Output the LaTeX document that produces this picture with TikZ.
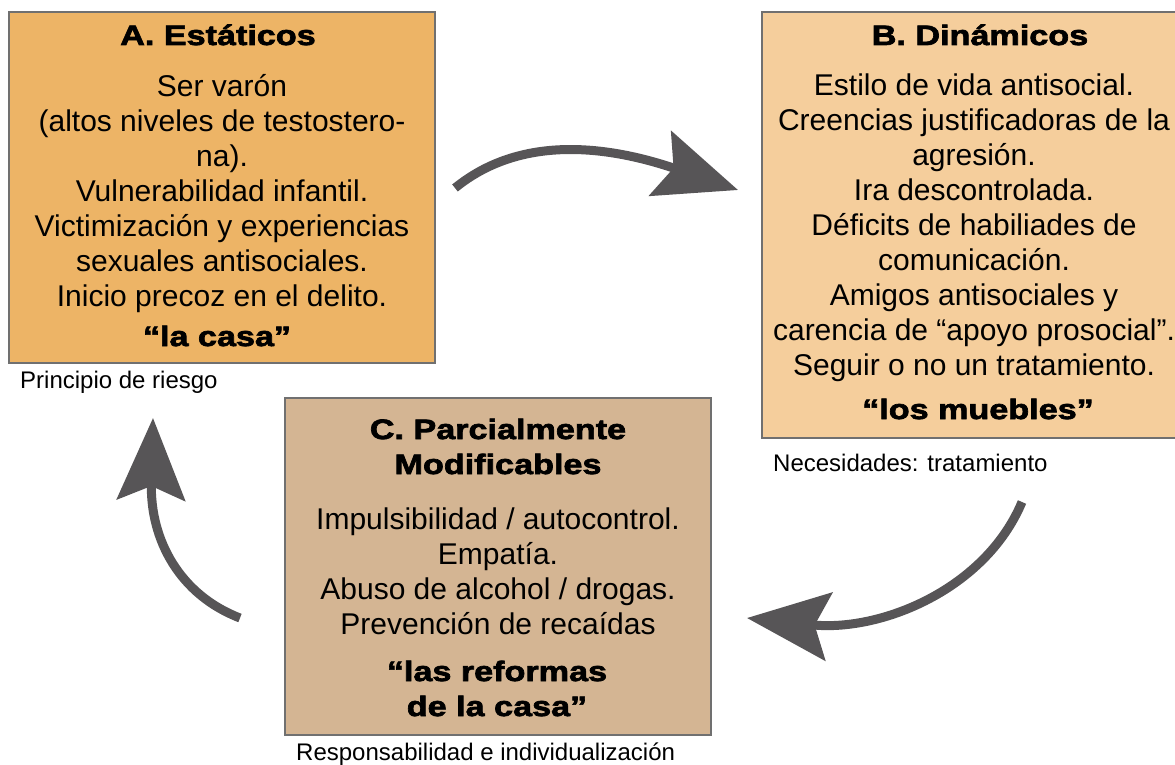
\documentclass[tikz,border=0pt]{standalone}
\usepackage{fontspec}
\setmainfont{Liberation Sans}
\newfontfamily\heavyfont[FakeStretch=1.22,FakeBold=2.5]{Liberation Sans Bold}
\usepackage{tikz}
\usetikzlibrary{arrows.meta}
\definecolor{fillA}{HTML}{EDB466}
\definecolor{fillB}{HTML}{F5CE9C}
\definecolor{fillC}{HTML}{D4B593}
\definecolor{edgegray}{HTML}{707070}
\definecolor{arrowgray}{HTML}{575557}
\begin{document}
\begin{tikzpicture}[x=1pt,y=-1pt,
    factor/.style={draw=edgegray, line width=2pt, inner sep=0pt},
    heading/.style={font=\heavyfont\fontsize{28}{35}\selectfont, align=center, inner sep=0pt, anchor=base},
    bodytext/.style={font=\fontsize{30}{35}\selectfont, align=center, inner sep=0pt, anchor=base},
    note/.style={font=\fontsize{24}{28}\selectfont, inner sep=0pt, anchor=base west},
    cycle/.style={draw=arrowgray, line width=9pt, -{Stealth[length=82pt,width=68pt,inset=14pt]}}]
    \useasboundingbox (0,0) rectangle (1175,765);
    % the three boxes
    \node [factor, fill=fillA, minimum width=426pt, minimum height=351pt] (boxA) at (222,187.5) {};
    \node [factor, fill=fillB, minimum width=424pt, minimum height=426pt] (boxB) at (974,225) {};
    \node [factor, fill=fillC, minimum width=426pt, minimum height=337pt] (boxC) at (498,566.5) {};
    % A. static factors (base = last line)
    \node [heading] (titleA) at (218,45) {A. Estáticos};
    \node [bodytext] (bodyA) at (222,306) {Ser varón\\(altos niveles de testostero-\\na).\\Vulnerabilidad infantil.\\Victimización y experiencias\\sexuales antisociales.\\Inicio precoz en el delito.};
    \node [heading] (mottoA) at (217,346) {“la casa”};
    % B. dynamic factors
    \node [heading] (titleB) at (980,45) {B. Dinámicos};
    \node [bodytext] (bodyB) at (974,375) {Estilo de vida antisocial.\\Creencias justificadoras de la\\agresión.\\Ira descontrolada.\\Déficits de habiliades de\\comunicación.\\Amigos antisociales y\\carencia de “apoyo prosocial”.\\Seguir o no un tratamiento.};
    \node [heading] (mottoB) at (978,419) {“los muebles”};
    % C. partially modifiable
    \node [heading] (titleC) at (498,474) {C. Parcialmente\\Modificables};
    \node [bodytext] (bodyC) at (498,634) {Impulsibilidad / autocontrol.\\Empatía.\\Abuso de alcohol / drogas.\\Prevención de recaídas};
    \node [heading] (mottoC) at (497,716) {“las reformas\\de la casa”};
    % notes under the boxes
    \node [note] (noteA) at (20,388) {Principio de riesgo};
    \node [note] (noteB) at (773,471) {Necesidades: tratamiento};
    \node [note] (noteC) at (296,760) {Responsabilidad e individualización};
    % cycle arrows
    \coordinate (fromA) at (455,188);
    \coordinate (toB) at (738,190);
    \coordinate (fromB) at (1022,502);
    \coordinate (toC) at (747,618);
    \coordinate (fromC) at (240,618);
    \coordinate (toA) at (153,418);
    \draw [cycle] (fromA) .. controls (520,135) and (606,145) .. (toB);
    \draw [cycle] (fromB) .. controls (985,590) and (880,632) .. (toC);
    \draw [cycle] (fromC) .. controls (180,595) and (150,540) .. (toA);
\end{tikzpicture}
\end{document}
